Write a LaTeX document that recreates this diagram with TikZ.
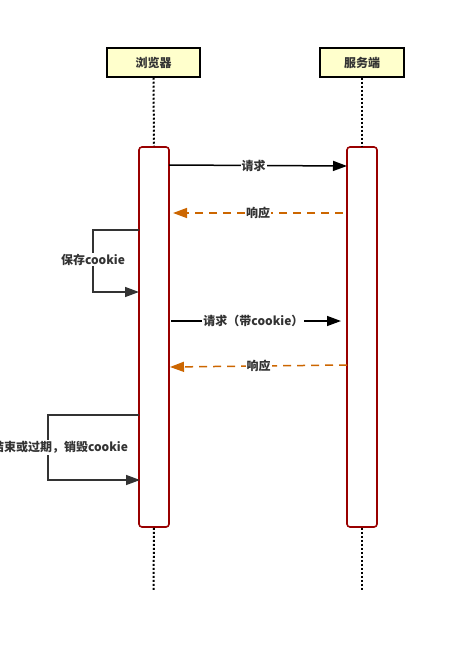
\documentclass[tikz,border=0pt]{standalone}
\usepackage{fontspec}
\setmainfont{Noto Sans CJK SC}
\usetikzlibrary{arrows.meta}
\definecolor{actred}{HTML}{990000}
\definecolor{resporange}{HTML}{CC6600}
\definecolor{headfill}{HTML}{FFFFCC}
\definecolor{txtgray}{HTML}{333333}
\begin{document}
\begin{tikzpicture}[x=1pt,y=-1pt,
  font=\fontsize{12pt}{14pt}\selectfont\bfseries,
  header/.style={draw=black,fill=headfill,line width=1.5pt,minimum width=#1,minimum height=29pt,inner sep=0pt,text=txtgray},
  actbox/.style={draw=actred,fill=white,line width=1.6pt,rounded corners=3pt,minimum width=30pt,minimum height=380pt,inner sep=0pt},
  lifeline/.style={line width=2pt,dash pattern=on 2pt off 2pt},
  msglabel/.style={fill=white,inner sep=1pt,text=txtgray},
  reqarrow/.style={draw=black,line width=1.5pt,-{Triangle[length=14pt,width=10pt]}},
  resparrow/.style={draw=resporange,line width=1.5pt,dash pattern=on 8pt off 6pt,-{Triangle[length=14pt,width=10pt]}},
  selfarrow/.style={draw=txtgray,line width=1.5pt,-{Triangle[length=14pt,width=10pt]}}
]
\useasboundingbox (0,0) rectangle (465,652);
% headers
\node[header=93pt] (browser) at (153.5,62.5) {浏览器};
\node[header=84pt] (server) at (362,62.5) {服务端};
% activation boxes
\node[actbox] (bact) at (154,337) {};
\node[actbox] (sact) at (362,337) {};
% lifelines
\coordinate (bend) at (153.5,590);
\coordinate (send) at (362,590);
\draw[lifeline] (browser.south) -- (bact.north);
\draw[lifeline] (server.south) -- (sact.north);
\draw[lifeline] (bact.south) -- (bend);
\draw[lifeline] (sact.south) -- (send);
% message points
\coordinate (r1s) at (169,165);
\coordinate (r1e) at (347,166);
\coordinate (p1s) at (343,213);
\coordinate (p1e) at (173,213);
\coordinate (r2s) at (171,321);
\coordinate (r2e) at (341,321);
\coordinate (p2s) at (347,365);
\coordinate (p2e) at (170,367);
\coordinate (s1a) at (139,230);
\coordinate (s1b) at (93,230);
\coordinate (s1c) at (93,292);
\coordinate (s1d) at (139,292);
\coordinate (s2a) at (139,415);
\coordinate (s2b) at (48,415);
\coordinate (s2c) at (48,480);
\coordinate (s2d) at (140,480);
% messages
\draw[reqarrow] (r1s) -- node[msglabel,pos=0.475] (l1) {请求} (r1e);
\draw[resparrow] (p1s) -- node[msglabel,pos=0.5] (l2) {响应} (p1e);
\draw[reqarrow] (r2s) -- node[msglabel,pos=0.485] (l3) {请求（带cookie）} (r2e);
\draw[resparrow] (p2s) -- node[msglabel,pos=0.5] (l4) {响应} (p2e);
\draw[selfarrow] (s1a) -- (s1b) -- node[msglabel,pos=0.48] (l5) {保存cookie} (s1c) -- (s1d);
\draw[selfarrow] (s2a) -- (s2b) -- node[msglabel,pos=0.5] (l6) {会话结束或过期，销毁cookie} (s2c) -- (s2d);
\end{tikzpicture}
\end{document}
